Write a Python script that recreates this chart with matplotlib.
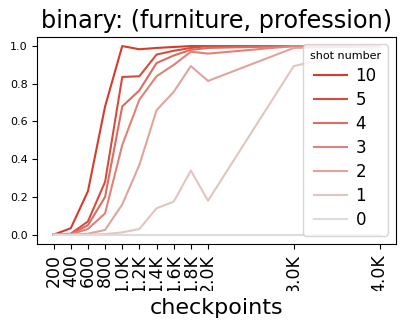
import matplotlib
matplotlib.use("Agg")
import matplotlib.pyplot as plt
from matplotlib.transforms import Bbox, TransformedBbox

# checkpoints on the x axis
checkpoints = [200, 400, 600, 800, 1000, 1200, 1400, 1600, 1800, 2000, 3000, 4000]
tick_labels = ["200", "400", "600", "800", "1.0K", "1.2K", "1.4K", "1.6K",
               "1.8K", "2.0K", "3.0K", "4.0K"]

# accuracy per shot number
shot_10 = [0.0, 0.034, 0.23, 0.68, 1.0, 0.983, 0.99, 0.995, 1.0, 1.0, 1.0, 1.0]
shot_5 = [0.0, 0.005, 0.07, 0.28, 0.836, 0.84, 0.955, 0.975, 0.99, 1.0, 1.0, 1.0]
shot_4 = [0.0, 0.003, 0.05, 0.20, 0.68, 0.765, 0.91, 0.95, 0.98, 0.99, 1.0, 1.0]
shot_3 = [0.0, 0.002, 0.03, 0.113, 0.475, 0.716, 0.84, 0.90, 0.97, 0.96, 1.0, 1.0]
shot_2 = [0.0, 0.0, 0.005, 0.025, 0.16, 0.37, 0.66, 0.757, 0.894, 0.815, 0.99, 1.0]
shot_1 = [0.0, 0.0, 0.0, 0.003, 0.012, 0.03, 0.14, 0.175, 0.34, 0.18, 0.894, 0.995]
shot_0 = [0.0, 0.0, 0.0, 0.0, 0.0, 0.0, 0.0, 0.0, 0.0, 0.0, 0.0, 0.0]

series = {
    "10": shot_10,
    "5": shot_5,
    "4": shot_4,
    "3": shot_3,
    "2": shot_2,
    "1": shot_1,
    "0": shot_0,
}
colors = ["#d83b2b", "#da4b3c", "#dc6b60", "#df8278", "#e1a39e", "#e3c4c1", "#dcdcdc"]

fig = plt.figure(figsize=(4.07, 3.33), dpi=100)
ax = fig.add_axes([0.0917, 0.267, 0.881, 0.623])

for (name, vals), c in zip(series.items(), colors):
    ax.plot(checkpoints, vals, color=c, linewidth=1.5, label=name)

ax.set_title("binary: (furniture, profession)", fontsize=17.3)
ax.set_xlabel("checkpoints", fontsize=16, labelpad=4)
ax.set_xticks(checkpoints)
ax.set_xticklabels(tick_labels, rotation=90, fontsize=12.5)
ax.tick_params(axis="y", labelsize=8)
ax.legend(title="shot number", loc="lower right", fontsize=12, title_fontsize=8,
          labelspacing=0.36, handletextpad=0.5)

# tick labels in the original are cut off at the bottom
clip = TransformedBbox(Bbox([[0, 1 - 291 / 333], [1, 1]]), fig.transFigure)
for lbl in ax.get_xticklabels():
    lbl.set_clip_box(clip)
    lbl.set_clip_on(True)

fig.savefig("out.png", dpi=100)
